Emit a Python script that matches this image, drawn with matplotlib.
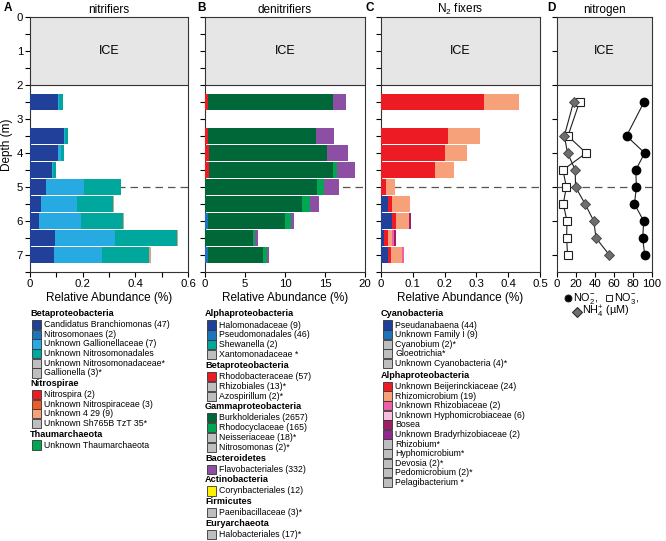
import matplotlib
matplotlib.use('Agg')
import matplotlib.pyplot as plt
from matplotlib.patches import Rectangle
from matplotlib.ticker import MultipleLocator
from matplotlib.transforms import blended_transform_factory

plt.rcParams['font.family'] = ['Liberation Sans', 'DejaVu Sans']
plt.rcParams['mathtext.fontset'] = 'custom'
plt.rcParams['mathtext.rm'] = 'Liberation Sans'
plt.rcParams['mathtext.it'] = 'Liberation Sans:italic'
plt.rcParams['mathtext.bf'] = 'Liberation Sans:bold'
plt.rcParams['axes.linewidth'] = 0.8

W, H = 666, 541

# --- data -------------------------------------------------------------
depths = [2.5, 3.5, 4.0, 4.5, 5.0, 5.5, 6.0, 6.5, 7.0]

# A: nitrifiers (%)
a_branchiomonas = [0.106, 0.128, 0.108, 0.085, 0.0625, 0.040, 0.035, 0.095, 0.0925]
a_gallionellaceae = [0.004, 0.004, 0.008, 0.003, 0.1425, 0.139, 0.159, 0.2275, 0.180]
a_nitrosomonadales = [0.015, 0.012, 0.012, 0.012, 0.140, 0.137, 0.1585, 0.2355, 0.180]
a_other = [0, 0, 0, 0, 0, 0.003, 0.003, 0.003, 0.007]

# B: denitrifiers (%)
b_pseudomonadales = [0, 0, 0, 0, 0, 0, 0.4, 0, 0.35]
b_rhodobacteraceae = [0.42, 0.42, 0.45, 0.45, 0, 0, 0, 0, 0]
b_burkholderiales = [15.6, 13.4, 14.75, 15.55, 14.0, 12.1, 9.6, 6.04, 6.95]
b_rhodocyclaceae = [0, 0, 0, 0.5, 0.9, 1.0, 0.7, 0.2, 0.5]
b_flavobacteriales = [1.66, 2.3, 2.7, 2.3, 1.8, 1.1, 0.4, 0.42, 0.2]

# C: N2 fixers (%)
c_pseudanabaena = [0, 0, 0, 0, 0, 0.021, 0.034, 0.010, 0.021]
c_beijerinckiaceae = [0.324, 0.211, 0.202, 0.171, 0.017, 0.015, 0.012, 0.013, 0.010]
c_rhizomicrobium = [0.110, 0.1015, 0.068, 0.058, 0.028, 0.054, 0.043, 0.013, 0.036]
c_rhizobiaceae = [0, 0, 0.002, 0, 0, 0, 0, 0.004, 0.005]
c_bosea = [0, 0, 0, 0, 0, 0, 0.005, 0.006, 0]

# D: nitrogen (uM)
d_no2 = [91.6, 73.2, 92.3, 82.9, 83.6, 81.5, 91.3, 90.2, 92.3]
d_no3 = [23.7, 11.5, 30.7, 6.3, 9.8, 6.6, 10.5, 10.1, 11.1]
d_nh4 = [17.4, 7.7, 11.1, 19.2, 19.5, 29.6, 38.7, 41.1, 55.1]

# colours
NAVY = '#21409a'
BLUE = '#1c75bc'
LBLUE = '#27aae1'
TEAL = '#00a79d'
GREY = '#bcbec0'
RED = '#ed1c24'
ORANGE = '#f15a29'
SALMON = '#f7a17a'
GREEN = '#00a651'
DGREEN = '#006838'
PURPLE = '#8c4fa3'
YELLOW = '#fff200'
PINK = '#ee5fa7'
LPINK = '#f7bfdc'
BOSEA = '#9e1f63'
BRADY = '#92278f'
TAN = '#c9a77c'

# legend entries: (label, colour) ; colour None -> bold group header
legend_a = [
    ('Betaproteobacteria', None),
    ('Candidatus Branchiomonas (47)', NAVY),
    ('Nitrosomonaes (2)', BLUE),
    ('Unknown Gallionellaceae (7)', LBLUE),
    ('Unknown Nitrosomonadales', TEAL),
    ('Unknown Nitrosomonadaceae*', GREY),
    ('Gallionella (3)*', GREY),
    ('Nitrospirae', None),
    ('Nitrospira (2)', RED),
    ('Unknown Nitrospiraceae (3)', ORANGE),
    ('Unknown 4 29 (9)', SALMON),
    ('Unknown Sh765B TzT 35*', GREY),
    ('Thaumarchaeota', None),
    ('Unknown Thaumarchaeota', GREEN),
]
legend_b = [
    ('Alphaproteobacteria', None),
    ('Halomonadaceae (9)', NAVY),
    ('Pseudomonadales (46)', BLUE),
    ('Shewanella (2)', TEAL),
    ('Xantomonadaceae *', GREY),
    ('Betaproteobacteria', None),
    ('Rhodobacteraceae (57)', RED),
    ('Rhizobiales (13)*', GREY),
    ('Azospirillum (2)*', GREY),
    ('Gammaproteobacteria', None),
    ('Burkholderiales (2657)', DGREEN),
    ('Rhodocyclaceae (165)', GREEN),
    ('Neisseriaceae (18)*', GREY),
    ('Nitrosomonas (2)*', GREY),
    ('Bacteroidetes', None),
    ('Flavobacteriales (332)', PURPLE),
    ('Actinobacteria', None),
    ('Corynbacteriales (12)', YELLOW),
    ('Firmicutes', None),
    ('Paenibacillaceae (3)*', GREY),
    ('Euryarchaeota', None),
    ('Halobacteriales (17)*', GREY),
]
legend_c = [
    ('Cyanobacteria', None),
    ('Pseudanabaena (44)', NAVY),
    ('Unknown Family I (9)', BLUE),
    ('Cyanobium (2)*', GREY),
    ('Gloeotrichia*', GREY),
    ('Unknown Cyanobacteria (4)*', GREY),
    ('Alphaproteobacteria', None),
    ('Unknown Beijerinckiaceae (24)', RED),
    ('Rhizomicrobium (19)', SALMON),
    ('Unknown Rhizobiaceae (2)', PINK),
    ('Unknown Hyphomicrobiaceae (6)', LPINK),
    ('Bosea', BOSEA),
    ('Unknown Bradyrhizobiaceae (2)', BRADY),
    ('Rhizobium*', GREY),
    ('Hyphomicrobium*', GREY),
    ('Devosia (2)*', GREY),
    ('Pedomicrobium (2)*', GREY),
    ('Pelagibacterium *', GREY),
]

FS = 8.5
TFS = 8.2
LFS = 6.3
BAR_H = 0.45


def fx(x):
    return x / W


def fy(y):
    return 1 - y / H


def make_ax(fig, left, right, top=17, bottom=272):
    ax = fig.add_axes([fx(left), fy(bottom), (right - left) / W, (bottom - top) / H])
    ax.set_ylim(7.5, 0)
    ax.axhspan(0, 2, color='#e6e6e7', zorder=0)
    ax.axhline(2, color='#333333', lw=0.8, zorder=1)
    ax.axhline(5, color='#555555', lw=0.9, ls=(0, (6, 4)), zorder=1)
    ax.tick_params(direction='out', length=3.5, width=0.8, labelsize=TFS, pad=1.5)
    ax.tick_params(which='minor', direction='out', length=3.5, width=0.8)
    for s in ax.spines.values():
        s.set_color('#333333')
    trans = blended_transform_factory(ax.transAxes, ax.transData)
    ax.text(0.5, 1, 'ICE', transform=trans, ha='center', va='center', fontsize=FS + 0.5)
    return ax


def stack(ax, series, colors):
    left = [0.0] * len(depths)
    for vals, c in zip(series, colors):
        ax.barh(depths, vals, height=BAR_H, left=left, color=c, lw=0, zorder=3)
        left = [l + v for l, v in zip(left, vals)]


def draw_legend(fig, entries, x, y0, after_header, step, before_header):
    y = y0
    prev_header = None  # None for first entry
    for label, c in entries:
        is_header = c is None
        if prev_header is not None:
            if is_header:
                y += before_header
            elif prev_header:
                y += after_header
            else:
                y += step
        if is_header:
            fig.text(fx(x), fy(y), label, fontsize=LFS + 0.3, fontweight='bold',
                     va='center', ha='left')
        else:
            fig.add_artist(Rectangle((fx(x + 1.5), fy(y + 4.6)), 9.5 / W, 9.2 / H,
                                     transform=fig.transFigure, facecolor=c,
                                     edgecolor='#333333', lw=0.6))
            fig.text(fx(x + 14), fy(y), label, fontsize=LFS, va='center', ha='left')
        prev_header = is_header


def zero_fmt(v, p):
    return '0' if v == 0 else f'{v:.1f}'


fig = plt.figure(figsize=(W / 100, H / 100), dpi=100)

# ---- A: nitrifiers
axA = make_ax(fig, 30, 188)
stack(axA, [a_branchiomonas, a_gallionellaceae, a_nitrosomonadales, a_other],
      [NAVY, LBLUE, TEAL, TAN])
axA.set_xlim(0, 0.6)
axA.xaxis.set_major_locator(MultipleLocator(0.2))
axA.xaxis.set_minor_locator(MultipleLocator(0.1))
axA.xaxis.set_major_formatter(plt.FuncFormatter(zero_fmt))
axA.yaxis.set_major_locator(MultipleLocator(1))
axA.yaxis.set_minor_locator(MultipleLocator(0.5))
axA.set_ylabel('Depth (m)', fontsize=FS, labelpad=3)
axA.set_xlabel('Relative Abundance (%)', fontsize=FS, labelpad=2)
axA.set_title('nitrifiers', fontsize=FS, pad=3)

# ---- B: denitrifiers
axB = make_ax(fig, 205, 365)
stack(axB, [b_pseudomonadales, b_rhodobacteraceae, b_burkholderiales,
            b_rhodocyclaceae, b_flavobacteriales],
      [BLUE, RED, DGREEN, GREEN, PURPLE])
axB.set_xlim(0, 20)
axB.xaxis.set_major_locator(MultipleLocator(5))
axB.yaxis.set_major_locator(MultipleLocator(0.5))
axB.set_yticklabels([])
axB.set_xlabel('Relative Abundance (%)', fontsize=FS, labelpad=2)
axB.set_title('denitrifiers', fontsize=FS, pad=3)

# ---- C: N2 fixers
axC = make_ax(fig, 381, 540)
stack(axC, [c_pseudanabaena, c_beijerinckiaceae, c_rhizomicrobium,
            c_rhizobiaceae, c_bosea],
      [NAVY, RED, SALMON, PINK, BOSEA])
axC.set_xlim(0, 0.5)
axC.xaxis.set_major_locator(MultipleLocator(0.1))
axC.xaxis.set_major_formatter(plt.FuncFormatter(zero_fmt))
axC.yaxis.set_major_locator(MultipleLocator(0.5))
axC.set_yticklabels([])
axC.set_xlabel('Relative Abundance (%)', fontsize=FS, labelpad=2)
axC.set_title('N$_2$ fixers', fontsize=FS, pad=3)

# ---- D: nitrogen
axD = make_ax(fig, 557, 652)
axD.plot(d_no3, depths, color='#231f20', lw=0.8, marker='s', ms=5.5,
         mfc='white', mec='#231f20', mew=0.8, zorder=4)
axD.plot(d_nh4, depths, color='#231f20', lw=0.8, marker='D', ms=5.2,
         mfc='#6d6e71', mec='#414042', mew=0.6, zorder=4)
axD.plot(d_no2, depths, color='#231f20', lw=0.8, marker='o', ms=6,
         mfc='black', mec='black', zorder=4)
axD.set_xlim(0, 100)
axD.xaxis.set_major_locator(MultipleLocator(20))
axD.yaxis.set_major_locator(MultipleLocator(1))
axD.set_yticklabels([])
axD.set_title('nitrogen', fontsize=FS, pad=3)

# D legend (markers + text)
fig.text(fx(573), fy(298), r'NO$_2^{-}$,', fontsize=7.8, va='center', ha='left')
fig.text(fx(614), fy(298), r'NO$_3^{-}$,', fontsize=7.8, va='center', ha='left')
fig.text(fx(582), fy(312), r'NH$_4^{+}$ (µM)', fontsize=7.8, va='center', ha='left')
for (x, y, m, fc, ms) in [(568, 297.5, 'o', 'black', 5), (609, 297.5, 's', 'white', 5),
                          (577, 311.5, 'D', '#6d6e71', 4.6)]:
    fig.add_artist(plt.Line2D([fx(x)], [fy(y)], marker=m, ms=ms, mfc=fc,
                              mec='#231f20', mew=0.7, ls='none',
                              transform=fig.transFigure))

# panel letters
for lab, x in [('A', 8), ('B', 201), ('C', 370), ('D', 551)]:
    fig.text(fx(x), fy(8), lab, fontsize=FS, fontweight='bold', ha='center', va='center')

# legends
draw_legend(fig, legend_a, 30, 314, 10.5, 9.7, 11)
draw_legend(fig, legend_b, 205, 314, 11, 9.9, 10.7)
draw_legend(fig, legend_c, 381, 314, 11, 9.6, 12)

fig.savefig('out.png', dpi=100)
